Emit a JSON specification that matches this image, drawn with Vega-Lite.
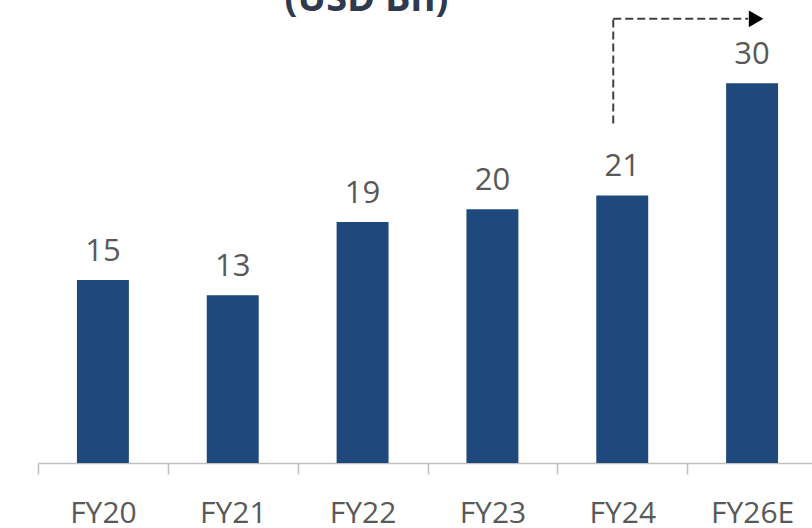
{
  "$schema": "https://vega.github.io/schema/vega-lite/v6.json",
  "width": 779,
  "height": 463,
  "autosize": "none",
  "padding": {"left": 38, "top": 0, "right": 0, "bottom": 65},
  "background": "white",
  "title": {
    "text": "(USD Bn)",
    "font": "Open Sans",
    "fontSize": 38,
    "fontWeight": "bold",
    "color": "#2E3A4E",
    "anchor": "middle",
    "frame": "group",
    "baseline": "alphabetic",
    "offset": -49,
    "dx": -61
  },
  "config": {"view": {"stroke": null}},
  "datasets": {
    "bars": [
      {"year": "FY20", "value": 14.5, "label": "15"},
      {"year": "FY21", "value": 13.3, "label": "13"},
      {"year": "FY22", "value": 19.1, "label": "19"},
      {"year": "FY23", "value": 20.1, "label": "20"},
      {"year": "FY24", "value": 21.2, "label": "21"},
      {"year": "FY26E", "value": 30.1, "label": "30"}
    ],
    "arrowV": [{"year": "FY24", "y1": 26.9, "y2": 35.2}],
    "arrowH": [{"from": "FY24", "to": "FY26E", "y": 35.2}]
  },
  "layer": [
    {
      "data": {"name": "bars"},
      "mark": {"type": "bar", "color": "#1F497D", "width": {"band": 0.4}},
      "encoding": {
        "x": {
          "field": "year", "type": "nominal", "sort": null,
          "scale": {"paddingInner": 0, "paddingOuter": 0},
          "axis": {
            "title": null, "labelAngle": 0, "tickBand": "extent",
            "domainColor": "#BFBFBF", "domainWidth": 1.5,
            "tickColor": "#BFBFBF", "tickWidth": 1.5, "tickSize": 11,
            "labelFont": "Open Sans", "labelFontSize": 30, "labelColor": "#595959",
            "labelPadding": 24, "grid": false
          }
        },
        "y": {
          "field": "value", "type": "quantitative",
          "scale": {"domain": [0, 36.69], "nice": false},
          "axis": null
        }
      }
    },
    {
      "data": {"name": "bars"},
      "mark": {"type": "text", "font": "Open Sans", "fontSize": 31, "color": "#595959", "baseline": "alphabetic", "dy": -19},
      "encoding": {
        "x": {"field": "year", "type": "nominal", "sort": null},
        "y": {"field": "value", "type": "quantitative", "scale": {"domain": [0, 36.69], "nice": false}},
        "text": {"field": "label"}
      }
    },
    {
      "data": {"name": "arrowV"},
      "mark": {"type": "rule", "color": "#404040", "strokeWidth": 2, "strokeDash": [8, 4], "xOffset": -9},
      "encoding": {
        "x": {"field": "year", "type": "nominal", "sort": null},
        "y": {"field": "y1", "type": "quantitative", "scale": {"domain": [0, 36.69], "nice": false}},
        "y2": {"field": "y2"}
      }
    },
    {
      "data": {"name": "arrowH"},
      "mark": {"type": "rule", "color": "#404040", "strokeWidth": 2, "strokeDash": [8, 4], "xOffset": -9, "x2Offset": -4},
      "encoding": {
        "x": {"field": "from", "type": "nominal", "sort": null},
        "x2": {"field": "to"},
        "y": {"field": "y", "type": "quantitative", "scale": {"domain": [0, 36.69], "nice": false}}
      }
    },
    {
      "data": {"name": "arrowH"},
      "mark": {"type": "point", "shape": "triangle-right", "filled": true, "color": "#000000", "opacity": 1, "size": 280, "xOffset": 4},
      "encoding": {
        "x": {"field": "to", "type": "nominal", "sort": null},
        "y": {"field": "y", "type": "quantitative", "scale": {"domain": [0, 36.69], "nice": false}}
      }
    }
  ]
}
